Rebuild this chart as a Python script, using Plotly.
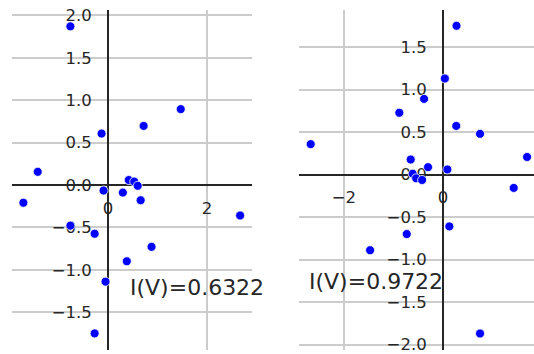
import plotly.graph_objects as go

# Left panel: scattered points
x_left = [-0.76, -1.42, -0.13, 0.72, 1.47, 0.42, 0.53, 0.60, -0.09, 0.30,
          0.66, -1.71, 2.67, -0.76, -0.27, 0.88, 0.38, -0.05, -0.27]
y_left = [1.87, 0.155, 0.606, 0.696, 0.894, 0.058, 0.04, -0.01, -0.066, -0.09,
          -0.18, -0.21, -0.36, -0.48, -0.575, -0.73, -0.90, -1.14, -1.75]
label_left = "I(V)=0.6322"

# Right panel: scattered points
x_right = [0.275, 0.04, -0.38, -0.88, 0.27, 0.75, -2.67, 1.70, -0.65, -0.30,
           0.09, -0.61, -0.54, -0.42, 1.43, 0.13, -0.73, -1.47, 0.75]
y_right = [1.75, 1.13, 0.89, 0.727, 0.572, 0.479, 0.358, 0.207, 0.177, 0.087,
           0.06, 0.01, -0.044, -0.064, -0.157, -0.61, -0.70, -0.89, -1.87]
label_right = "I(V)=0.9722"

W, H = 534, 354
FONT = "DejaVu Sans"
TXT = "#262626"
GRID = "#cccccc"

xr1, yr1 = [-1.94, 2.91], [-1.946, 2.063]
xr2, yr2 = [-2.90, 1.84], [-2.064, 1.936]
dom1, dom2 = [12 / W, 252 / W], [299.3 / W, 1.0]


def zero_pos(rng, dom):
    return dom[0] + (0 - rng[0]) / (rng[1] - rng[0]) * (dom[1] - dom[0])


fig = go.Figure()
marker = dict(color="#0000ff", size=9, line=dict(color="white", width=0.8))
fig.add_trace(go.Scatter(x=x_left, y=y_left, mode="markers", marker=marker,
                         xaxis="x", yaxis="y", showlegend=False, cliponaxis=True))
fig.add_trace(go.Scatter(x=x_right, y=y_right, mode="markers", marker=marker,
                         xaxis="x2", yaxis="y2", showlegend=False, cliponaxis=True))

common = dict(showgrid=True, gridcolor=GRID, gridwidth=1.5, zeroline=False,
              showline=True, linecolor="#262626", linewidth=1.8,
              ticks="", tickfont=dict(family=FONT, size=16.5, color=TXT),
              layer="below traces", anchor="free", ticklabeloverflow="allow")

ydom = [0, 1]
fig.update_layout(
    width=W, height=H,
    margin=dict(l=0, r=0, t=10, b=0),
    paper_bgcolor="white", plot_bgcolor="white",
    xaxis=dict(common, domain=dom1, range=xr1, dtick=2,
               position=zero_pos(yr1, ydom), ticklabelstandoff=8),
    yaxis=dict(common, domain=ydom, range=yr1, dtick=0.5, tickformat=".1f",
               position=zero_pos(xr1, dom1), ticklabelstandoff=12),
    xaxis2=dict(common, domain=dom2, range=xr2, dtick=2,
                position=zero_pos(yr2, ydom), ticklabelstandoff=8),
    yaxis2=dict(common, domain=ydom, range=yr2, dtick=0.5, tickformat=".1f",
                position=zero_pos(xr2, dom2), ticklabelstandoff=12),
    annotations=[
        dict(x=0.41, y=-1.21, xref="x", yref="y", text=label_left,
             showarrow=False, xanchor="left", yanchor="middle",
             font=dict(family=FONT, size=22, color=TXT)),
        dict(x=-2.74, y=-1.26, xref="x2", yref="y2", text=label_right,
             showarrow=False, xanchor="left", yanchor="middle",
             font=dict(family=FONT, size=22, color=TXT)),
    ],
)

fig.write_html("out.html")
